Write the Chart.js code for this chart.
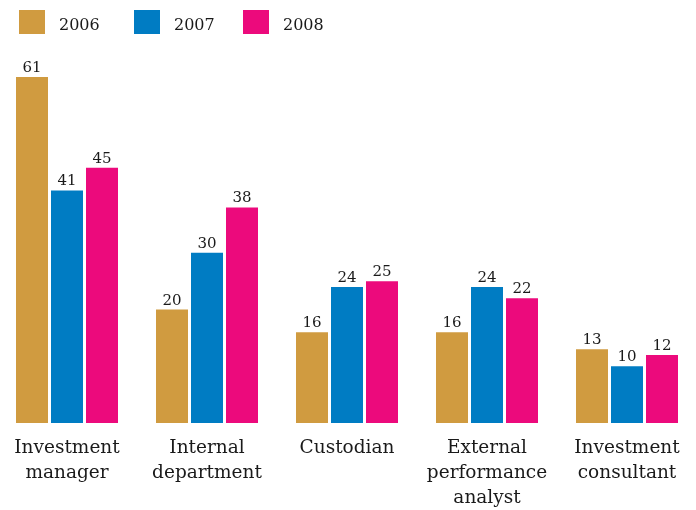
<!DOCTYPE html>
<html>
<head>
<meta charset="utf-8">
<script src="https://cdn.jsdelivr.net/npm/chart.js@4.4.1/dist/chart.umd.min.js"></script>
<style>
  html, body { margin: 0; padding: 0; background: #fff; overflow: hidden; }
  #wrap { position: absolute; left: -3px; top: 0; width: 700px; height: 510px; }
</style>
</head>
<body>
<div id="wrap"><canvas id="c" width="700" height="510"></canvas></div>
<script>
const categories = [
  ['Investment', 'manager'],
  ['Internal', 'department'],
  ['Custodian'],
  ['External', 'performance', 'analyst'],
  ['Investment', 'consultant']
];
const years = ['2006', '2007', '2008'];
const values2006 = [61, 20, 16, 16, 13];
const values2007 = [41, 30, 24, 24, 10];
const values2008 = [45, 38, 25, 22, 12];
const colors = ['#D09B40', '#007CC3', '#EC0A7C'];

const SERIF = '"DejaVu Serif", "Liberation Serif", serif';

// Value printed above every bar
const valueLabels = {
  id: 'valueLabels',
  afterDatasetsDraw(chart) {
    const ctx = chart.ctx;
    ctx.save();
    ctx.font = '15px ' + SERIF;
    ctx.fillStyle = '#1a1a1a';
    ctx.textAlign = 'center';
    ctx.textBaseline = 'alphabetic';
    chart.data.datasets.forEach((ds, i) => {
      chart.getDatasetMeta(i).data.forEach((bar, j) => {
        ctx.fillText(String(ds.data[j]), bar.x, bar.y - 5);
      });
    });
    ctx.restore();
  }
};

// Legend row across the top: colour box followed by year
const topLegend = {
  id: 'topLegend',
  afterDraw(chart) {
    const ctx = chart.ctx;
    const boxX = [22, 137, 246];
    ctx.save();
    ctx.font = '16px ' + SERIF;
    ctx.textBaseline = 'middle';
    chart.data.datasets.forEach((ds, i) => {
      ctx.fillStyle = ds.backgroundColor;
      ctx.fillRect(boxX[i], 10, 26, 24);
      ctx.fillStyle = '#1a1a1a';
      ctx.fillText(ds.label, boxX[i] + 40, 26);
    });
    ctx.restore();
  }
};

new Chart(document.getElementById('c'), {
  type: 'bar',
  data: {
    labels: categories,
    datasets: years.map((y, i) => ({
      label: y,
      data: [values2006, values2007, values2008][i],
      backgroundColor: colors[i],
      borderWidth: 0,
      categoryPercentage: 0.75,
      barPercentage: 32 / 35
    }))
  },
  options: {
    responsive: false,
    animation: false,
    layout: { padding: { top: 26, left: 0, right: 0, bottom: 0 } },
    plugins: {
      legend: { display: false },
      tooltip: { enabled: false }
    },
    scales: {
      x: {
        grid: { display: false },
        border: { display: false },
        ticks: {
          color: '#1a1a1a',
          font: { family: SERIF, size: 18.5, lineHeight: 1.35 },
          padding: 5,
          maxRotation: 0,
          autoSkip: false
        },
        afterFit(scale) { scale.height = 87; }
      },
      y: {
        display: false,
        min: 0,
        max: 70
      }
    }
  },
  plugins: [valueLabels, topLegend]
});
</script>
</body>
</html>
